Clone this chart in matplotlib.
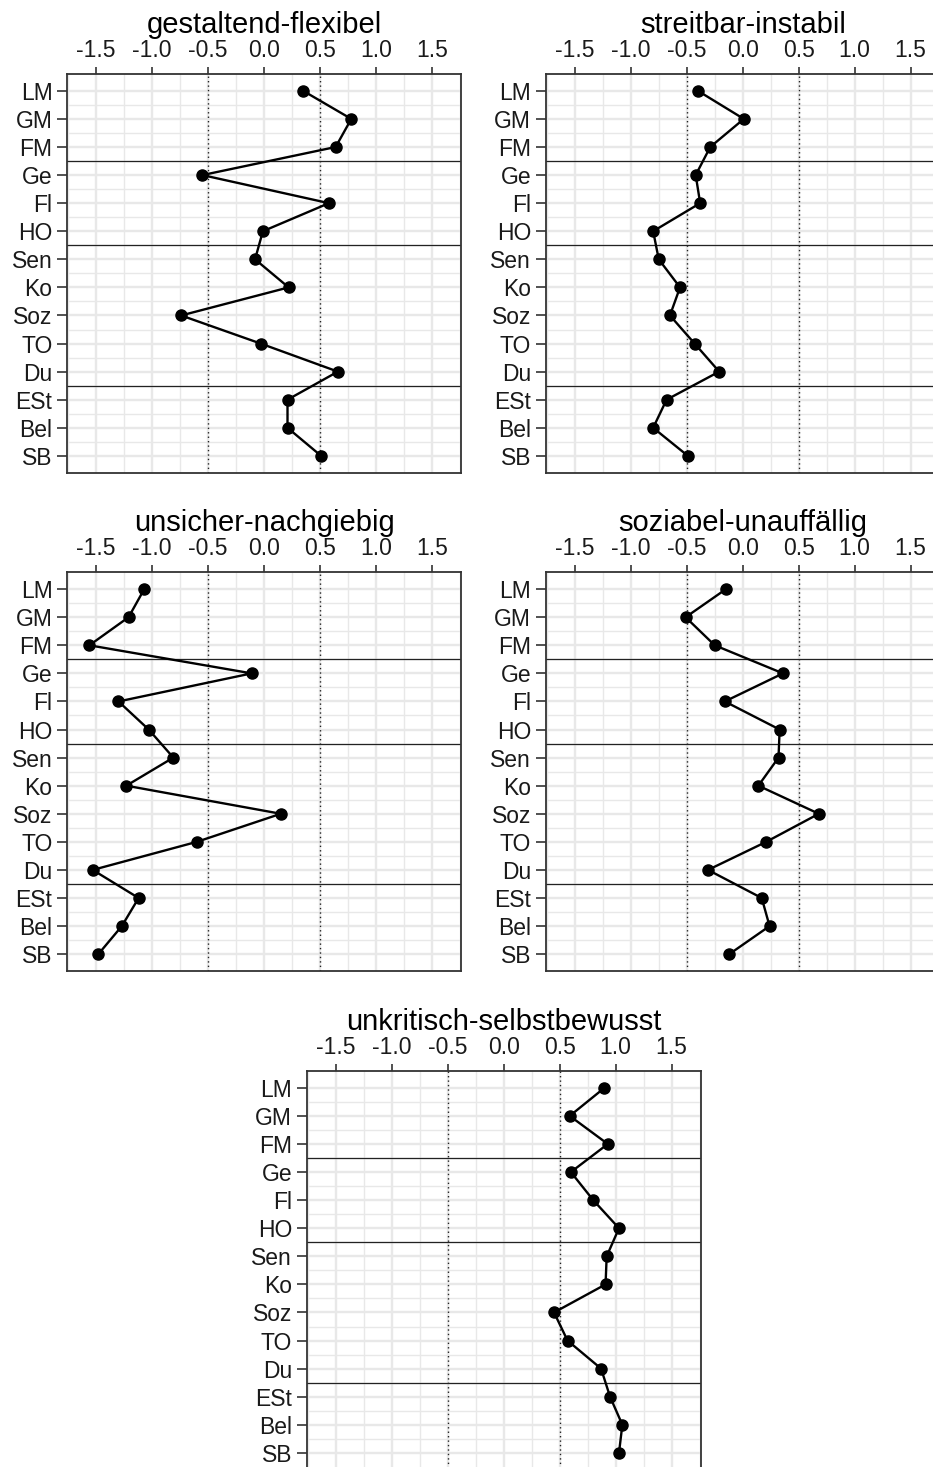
import matplotlib
matplotlib.use("Agg")
import matplotlib.pyplot as plt
import numpy as np

plt.rcParams['font.family'] = ['Liberation Sans', 'DejaVu Sans']

categories = ["LM", "GM", "FM", "Ge", "Fl", "HO", "Sen", "Ko", "Soz", "TO", "Du", "ESt", "Bel", "SB"]
titles = ["gestaltend-flexibel", "streitbar-instabil", "unsicher-nachgiebig",
          "soziabel-unauffällig", "unkritisch-selbstbewusst"]

gestaltend = [0.35, 0.78, 0.64, -0.55, 0.58, -0.01, -0.08, 0.22, -0.74, -0.03, 0.66, 0.21, 0.21, 0.51]
streitbar = [-0.40, 0.01, -0.29, -0.42, -0.38, -0.80, -0.75, -0.56, -0.65, -0.43, -0.21, -0.68, -0.80, -0.49]
unsicher = [-1.07, -1.21, -1.56, -0.11, -1.30, -1.03, -0.81, -1.23, 0.15, -0.60, -1.53, -1.12, -1.27, -1.48]
soziabel = [-0.15, -0.51, -0.25, 0.36, -0.16, 0.33, 0.32, 0.14, 0.68, 0.21, -0.31, 0.17, 0.24, -0.12]
unkritisch = [0.90, 0.59, 0.93, 0.60, 0.80, 1.03, 0.92, 0.91, 0.45, 0.57, 0.87, 0.95, 1.06, 1.03]
series = [gestaltend, streitbar, unsicher, soziabel, unkritisch]

separators = [2.5, 5.5, 10.5]
ref_lines = [-0.5, 0.5]
xticks = [-1.5, -1.0, -0.5, 0.0, 0.5, 1.0, 1.5]

W, H = 933, 1467
fig = plt.figure(figsize=(W / 100, H / 100), dpi=100)

# panel boxes in pixels: left, top
pw, ph = 394, 398.7
boxes = [(67, 74), (545.7, 74), (67, 572.3), (545.7, 572.3), (306.7, 1071)]

ypos = np.arange(len(categories))
txtcol = '#1a1a1a'

for (left, top), title, vals in zip(boxes, titles, series):
    ax = fig.add_axes([left / W, 1 - (top + ph) / H, pw / W, ph / H])
    ax.set_xlim(-1.76, 1.76)
    ax.set_ylim(len(categories) - 1 + 0.6, -0.6)

    ax.set_xticks(xticks)
    ax.set_xticklabels([f"{t:.1f}" for t in xticks])
    ax.set_xticks(np.arange(-1.75, 1.8, 0.5), minor=True)
    ax.set_yticks(ypos)
    ax.set_yticklabels(categories)
    ax.set_yticks(ypos[:-1] + 0.5, minor=True)

    ax.xaxis.tick_top()
    ax.tick_params(axis='both', which='major', labelsize=16.5, colors='#333333',
                   labelcolor=txtcol, width=1.2, pad=3.5)
    ax.tick_params(axis='x', which='major', length=5.2)
    ax.tick_params(axis='y', which='major', length=7)
    ax.tick_params(axis='both', which='minor', length=0)

    ax.grid(True, which='major', color='#e8e8e8', linewidth=1.7, zorder=0)
    ax.grid(True, which='minor', color='#e8e8e8', linewidth=1.0, zorder=0)
    ax.set_axisbelow(True)

    for s in ax.spines.values():
        s.set_color('#333333')
        s.set_linewidth(1.3)

    for r in ref_lines:
        ax.axvline(r, color='#222222', linestyle=(0, (1, 2.2)), linewidth=1.0, zorder=1)
    for sep in separators:
        ax.axhline(sep, color='#222222', linewidth=0.9, zorder=1)

    ax.plot(vals, ypos, color='black', linewidth=1.7, marker='o', markersize=8, zorder=3)

    ax.text(0.5, 1 + 41 / ph, title, transform=ax.transAxes, ha='center', va='baseline',
            fontsize=21, color='black')

fig.savefig("out.png", dpi=100)
